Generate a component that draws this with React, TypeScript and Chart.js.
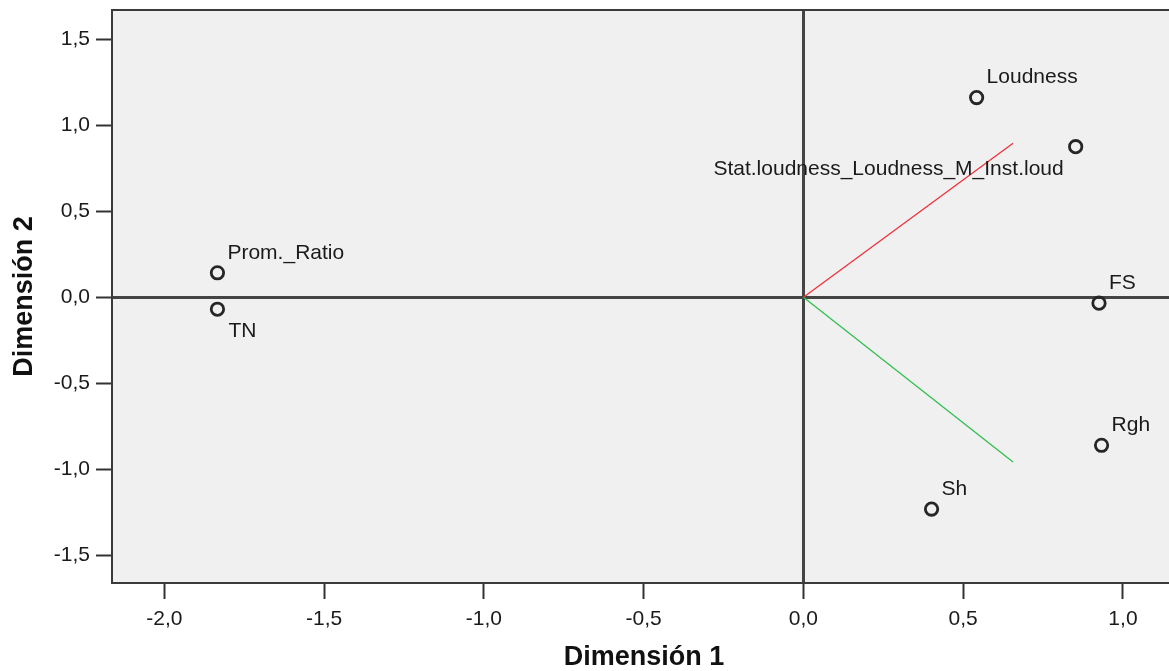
import React, { useEffect, useRef } from "react";
import { Chart, registerables } from "chart.js";

Chart.register(...registerables);

const pointNames = ["Loudness", "Stat.loudness_Loudness_M_Inst.loud", "Prom._Ratio", "TN", "FS", "Rgh", "Sh"];
const dim1Values = [0.542, 0.852, -1.834, -1.834, 0.925, 0.933, 0.401];
const dim2Values = [1.161, 0.875, 0.142, -0.07, -0.035, -0.861, -1.232];
const labelPlacement = ["ne", "sw", "ne", "se", "ne", "ne", "ne"];

const vectorRedEnd = { x: 0.656, y: 0.895 };
const vectorGreenEnd = { x: 0.656, y: -0.959 };

const xTickValues = [-2.0, -1.5, -1.0, -0.5, 0.0, 0.5, 1.0];
const yTickValues = [-1.5, -1.0, -0.5, 0.0, 0.5, 1.0, 1.5];
const xRange = { min: -2.164, max: 1.166 };
const yRange = { min: -1.662, max: 1.67 };

const xTitle = "Dimensión 1";
const yTitle = "Dimensión 2";

const FONT = "'Liberation Sans', Arial, sans-serif";

const fmt = (v: number) => v.toFixed(1).replace(".", ",");

const frameAndBg = {
  id: "frameAndBg",
  beforeDraw(chart: any) {
    const { ctx, chartArea: a } = chart;
    ctx.save();
    ctx.fillStyle = "#f0f0f0";
    ctx.fillRect(a.left, a.top, a.right - a.left, a.bottom - a.top);
    ctx.restore();
  },
  afterDraw(chart: any) {
    const { ctx, chartArea: a } = chart;
    ctx.save();
    ctx.strokeStyle = "#3a3a3a";
    ctx.lineWidth = 2;
    ctx.strokeRect(a.left, a.top, a.right - a.left, a.bottom - a.top);
    ctx.restore();
  },
};

const pointLabels = {
  id: "pointLabels",
  afterDatasetsDraw(chart: any) {
    const { ctx } = chart;
    const meta = chart.getDatasetMeta(0);
    ctx.save();
    ctx.font = `21px ${FONT}`;
    ctx.fillStyle = "#1a1a1a";
    ctx.textBaseline = "middle";
    meta.data.forEach((el: any, i: number) => {
      const p = labelPlacement[i];
      let dx = 10, dy = -20, align: CanvasTextAlign = "left";
      if (p === "se") { dx = 11; dy = 22; }
      if (p === "sw") { dx = -12; dy = 22; align = "right"; }
      ctx.textAlign = align;
      ctx.fillText(pointNames[i], el.x + dx, el.y + dy);
    });
    ctx.restore();
  },
};

export default function App() {
  const ref = useRef<HTMLCanvasElement | null>(null);

  useEffect(() => {
    if (!ref.current) return;
    const chart = new Chart(ref.current, {
      type: "scatter",
      data: {
        datasets: [
          {
            label: "points",
            data: dim1Values.map((x, i) => ({ x, y: dim2Values[i] })),
            pointRadius: 6.2,
            pointBorderWidth: 2.8,
            pointBorderColor: "#262626",
            pointBackgroundColor: "rgba(0,0,0,0)",
            showLine: false,
            order: 0,
          },
          {
            type: "line",
            label: "red",
            data: [{ x: 0, y: 0 }, vectorRedEnd],
            borderColor: "#f0303a",
            borderWidth: 1.3,
            pointRadius: 0,
            fill: false,
            order: 1,
          },
          {
            type: "line",
            label: "green",
            data: [{ x: 0, y: 0 }, vectorGreenEnd],
            borderColor: "#2fbf4f",
            borderWidth: 1.3,
            pointRadius: 0,
            fill: false,
            order: 1,
          },
        ],
      },
      options: {
        responsive: false,
        animation: false,
        layout: { autoPadding: false, padding: { top: 10, left: 0, right: 0, bottom: 0 } },
        plugins: { legend: { display: false }, tooltip: { enabled: false } },
        scales: {
          x: {
            type: "linear",
            min: xRange.min,
            max: xRange.max,
            afterBuildTicks: (s: any) => { s.ticks = xTickValues.map((v) => ({ value: v })); },
            afterFit: (s: any) => { s.height = 88; s.paddingLeft = 0; s.paddingRight = 0; },
            border: { display: false },
            grid: {
              color: (c: any) => (c.tick && Math.abs(c.tick.value) < 1e-9 ? "#444444" : "rgba(0,0,0,0)"),
              lineWidth: 3,
              drawTicks: true,
              tickLength: 16,
              tickColor: "#333333",
              tickWidth: 2,
            },
            ticks: {
              callback: (v: any) => fmt(Number(v)),
              font: { family: FONT, size: 21 },
              color: "#1a1a1a",
              padding: 8,
              maxRotation: 0,
              autoSkip: false,
            },
            title: {
              display: true,
              text: xTitle,
              font: { family: FONT, size: 27, weight: "bold", lineHeight: 1 },
              color: "#111111",
              padding: { top: 0, bottom: 0 },
            },
          },
          y: {
            type: "linear",
            min: yRange.min,
            max: yRange.max,
            afterBuildTicks: (s: any) => { s.ticks = yTickValues.map((v) => ({ value: v })); },
            afterFit: (s: any) => { s.width = 112; s.paddingTop = 0; s.paddingBottom = 0; },
            border: { display: false },
            grid: {
              color: (c: any) => (c.tick && Math.abs(c.tick.value) < 1e-9 ? "#444444" : "rgba(0,0,0,0)"),
              lineWidth: 3,
              drawTicks: true,
              tickLength: 16,
              tickColor: "#333333",
              tickWidth: 2,
            },
            ticks: {
              callback: (v: any) => fmt(Number(v)),
              font: { family: FONT, size: 21 },
              color: "#1a1a1a",
              padding: 6,
              autoSkip: false,
            },
            title: {
              display: true,
              text: yTitle,
              font: { family: FONT, size: 27, weight: "bold", lineHeight: 1 },
              color: "#111111",
              padding: { top: 11, bottom: 0 },
            },
          },
        },
      },
      plugins: [frameAndBg, pointLabels],
    } as any);
    return () => chart.destroy();
  }, []);

  return (
    <div style={{ position: "absolute", left: 0, top: 0, width: 1169, height: 671, overflow: "hidden", background: "#ffffff" }}>
      <canvas ref={ref} width={1176} height={671} style={{ width: 1176, height: 671, display: "block" }} />
    </div>
  );
}
